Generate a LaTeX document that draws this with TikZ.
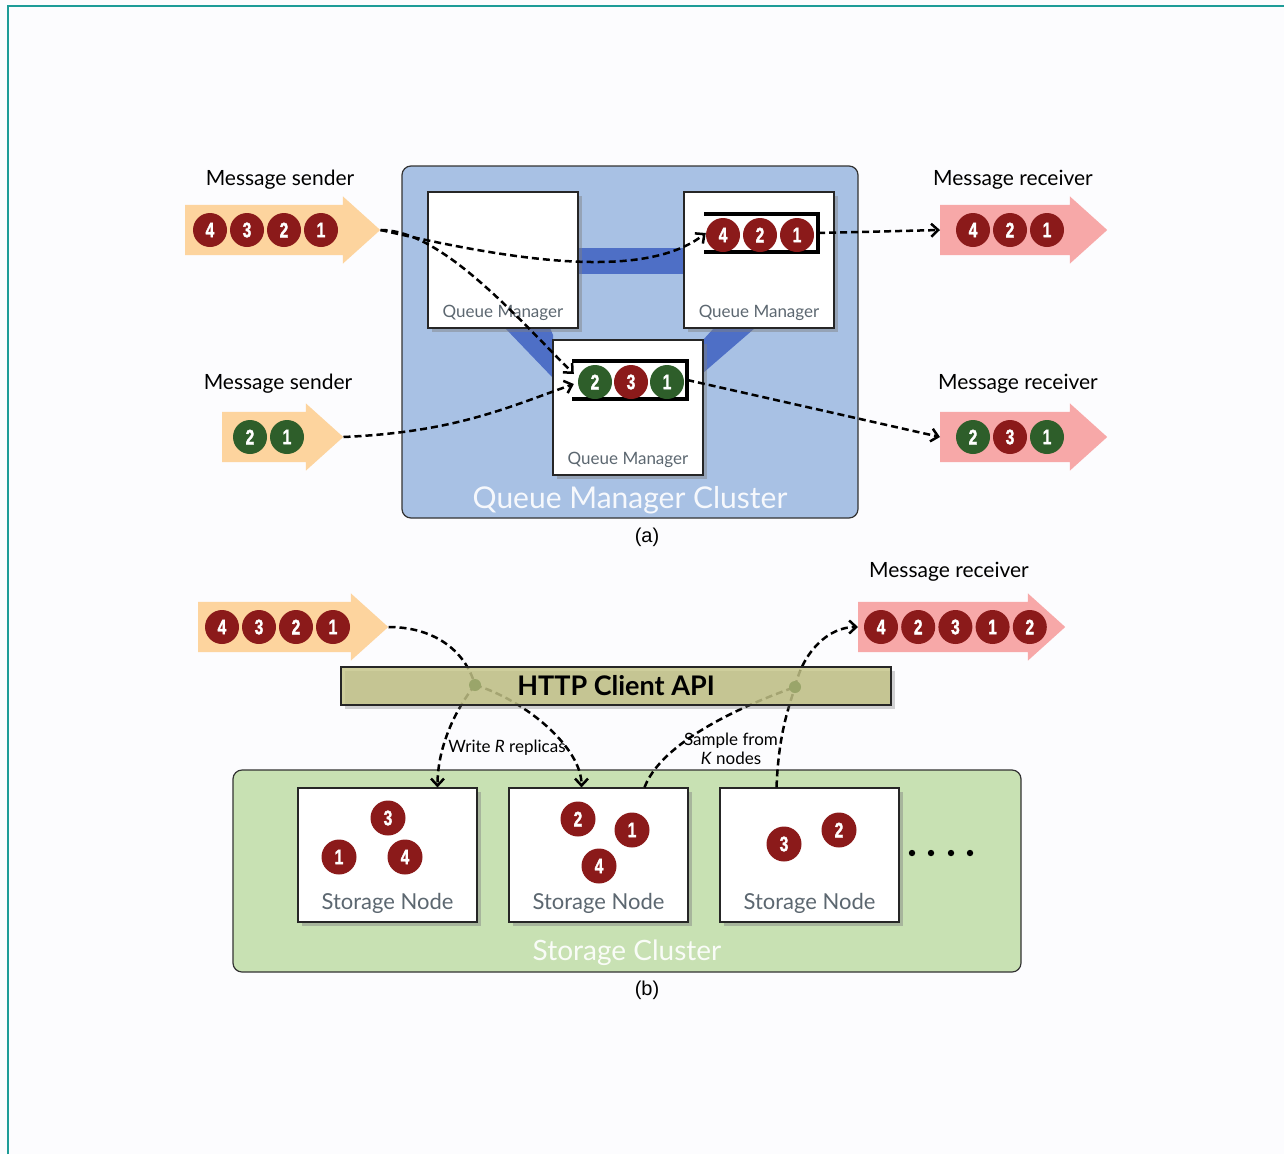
\documentclass[tikz,border=0pt]{standalone}
\usepackage{fontspec}
\setmainfont{Lato}
\newfontfamily\ballfont{Liberation Sans}[UprightFont=* Bold,FakeStretch=0.74,FakeBold=1.6]
\newfontfamily\capfont{Liberation Sans}
\usepackage{tikz}
\usetikzlibrary{arrows.meta,positioning,calc,shapes.arrows,shadows}
\definecolor{paper}{HTML}{FCFCFE}
\definecolor{frameteal}{HTML}{1E9C98}
\definecolor{clusterblue}{HTML}{A8C1E4}
\definecolor{linkblue}{HTML}{4E6FC6}
\definecolor{sendorange}{HTML}{FDD49E}
\definecolor{recvpink}{HTML}{F7A8A8}
\definecolor{ballred}{HTML}{8B1A1A}
\definecolor{ballgreen}{HTML}{2E5E2A}
\definecolor{storegreen}{HTML}{C8E1B3}
\definecolor{apiolive}{HTML}{C3C384}
\definecolor{hubolive}{HTML}{9AA56A}
\definecolor{labelgray}{HTML}{5C6770}
\tikzset{
  clusterbox/.style={draw=black!80,rounded corners=9pt,line width=1.2pt},
  clustertitle/.style={text=white,text opacity=0.9,font=\fontsize{30}{32}\selectfont},
  qmbox/.style={draw=black!85,fill=white,line width=1.2pt,minimum width=150pt,
    minimum height=136pt,drop shadow={opacity=0.45,shadow xshift=4pt,shadow yshift=-4pt}},
  storebox/.style={qmbox,minimum width=179pt,minimum height=134pt},
  qmlabel/.style={text=labelgray,font=\fontsize{17}{19}\selectfont},
  storelabel/.style={text=labelgray,font=\fontsize{22}{24}\selectfont},
  queuebox/.style={minimum width=112pt,minimum height=38pt,inner sep=0pt},
  queueline/.style={line width=3.5pt,line cap=rect},
  msgball/.style={circle,fill=ballred,text=white,minimum size=34pt,inner sep=0pt,
    font=\ballfont\fontsize{21}{21}\selectfont},
  storeball/.style={msgball,minimum size=35pt},
  sendarrow/.style={single arrow,fill=sendorange,draw=none,single arrow head extend=8.5pt,
    single arrow tip angle=84,inner xsep=0pt,inner ysep=25pt,anchor=west},
  recvarrow/.style={sendarrow,fill=recvpink},
  msglabel/.style={font=\fontsize{21}{23}\selectfont},
  msgflow/.style={line width=2.5pt,dash pattern=on 7pt off 4pt,
    -{Straight Barb[length=7pt,width=13pt]}},
  plainflow/.style={line width=2.5pt,dash pattern=on 7pt off 4pt},
  flowlabel/.style={font=\fontsize{17}{21}\selectfont,inner sep=1pt},
  sublabel/.style={font=\capfont\fontsize{20}{22}\selectfont}
}

\begin{document}
\begin{tikzpicture}[x=1pt,y=-1pt]
  \useasboundingbox (0,0) rectangle (1284,1154);
  \fill[paper] (0,0) rectangle (1284,1154);
  \draw[frameteal,line width=2.5pt] (8,1154) -- (8,6) -- (1284,6);

  % (a) queue manager cluster
  \node[clusterbox,fill=clusterblue,minimum width=456pt,minimum height=352pt] (qmCluster) at (630,342) {};
  \fill[linkblue] (578,248) rectangle (684,274);
  \fill[linkblue] (505,328) -- (550,328) -- (553,335) -- (553,378) -- cycle;
  \fill[linkblue] (714,328) -- (755,328) -- (703,373) -- (703,340) -- cycle;
  \node[clustertitle] (qmClusterTitle) at (630,500) {Queue Manager Cluster};

  \node[qmbox] (qmLeft) at (503,260) {};
  \node[qmbox] (qmRight) at (759,260) {};
  \node[qmbox,minimum height=135pt] (qmMid) at (628,407.5) {};
  \node[qmlabel] (qmLeftLabel) at ([yshift=16pt]qmLeft.south) {Queue Manager};
  \node[qmlabel] (qmRightLabel) at ([yshift=16pt]qmRight.south) {Queue Manager};
  \node[qmlabel] (qmMidLabel) at ([yshift=16pt]qmMid.south) {Queue Manager};

  % queues
  \node[queuebox] (queueRight) at (762,233) {};
  \draw[queueline] (queueRight.north west) -- (queueRight.north east)
    -- (queueRight.south east) -- (queueRight.south west);
  \foreach \n [count=\i] in {4,2,1}
    \node[msgball] (queueRightBall\i) at ({723+37*(\i-1)},235) {\n};
  \node[queuebox,minimum width=113pt] (queueMid) at (630.5,380) {};
  \draw[queueline] (queueMid.north west) -- (queueMid.north east)
    -- (queueMid.south east) -- (queueMid.south west);
  \foreach \c/\n [count=\i] in {ballgreen/2,ballred/3,ballgreen/1}
    \node[msgball,fill=\c] (queueMidBall\i) at ({595+36*(\i-1)},382) {\n};

  % senders and receivers
  \node[sendarrow,minimum height=195pt] (senderA) at (185,230) {};
  \node[sendarrow,minimum height=121pt] (senderB) at (222,437) {};
  \node[recvarrow,minimum height=167pt] (recvA) at (940,230) {};
  \node[recvarrow,minimum height=167pt] (recvB) at (940,437) {};
  \node[msglabel] (senderALabel) at (280,180) {Message sender};
  \node[msglabel] (senderBLabel) at (278,384) {Message sender};
  \node[msglabel] (recvALabel) at (1013,180) {Message receiver};
  \node[msglabel] (recvBLabel) at (1018,384) {Message receiver};
  \foreach \n [count=\i] in {4,3,2,1}
    \node[msgball] (senderABall\i) at ({210+37*(\i-1)},230) {\n};
  \foreach \n [count=\i] in {2,1}
    \node[msgball,fill=ballgreen] (senderBBall\i) at ({250+37*(\i-1)},437) {\n};
  \foreach \n [count=\i] in {4,2,1}
    \node[msgball] (recvABall\i) at ({973+37*(\i-1)},230) {\n};
  \foreach \c/\n [count=\i] in {ballgreen/2,ballred/3,ballgreen/1}
    \node[msgball,fill=\c] (recvBBall\i) at ({973+37*(\i-1)},437) {\n};

  \draw[msgflow] (senderA.tip) .. controls +(110,25) and +(-66,52) .. (queueRight.west);
  \draw[msgflow] (senderA.tip) .. controls +(60,0) and +(-60,-60) .. ([yshift=6pt]queueMid.west);
  \draw[msgflow] (senderB.tip) .. controls +(110,-5) and +(-70,25) .. ([yshift=-4pt]queueMid.west);
  \draw[msgflow] (queueRight.east) -- (recvA.west);
  \draw[msgflow] (queueMid.east) -- (recvB.west);
  \node[sublabel] (captionA) at (647,537) {(a)};

  % (b) storage cluster
  \node[clusterbox,fill=storegreen,minimum width=788pt,minimum height=202pt] (storeCluster) at (627,871) {};
  \node[clustertitle,font=\fontsize{28}{30}\selectfont] (storeClusterTitle) at (627,953) {Storage Cluster};
  \node[storebox] (storeA) at (387.5,855) {};
  \node[storebox] (storeB) at (598.5,855) {};
  \node[storebox] (storeC) at (809.5,855) {};
  \node[storelabel] (storeALabel) at ([yshift=19pt]storeA.south) {Storage Node};
  \node[storelabel] (storeBLabel) at ([yshift=19pt]storeB.south) {Storage Node};
  \node[storelabel] (storeCLabel) at ([yshift=19pt]storeC.south) {Storage Node};
  \node[storeball] (storeABall3) at (388,818) {3};
  \node[storeball] (storeABall1) at (339,857) {1};
  \node[storeball] (storeABall4) at (405,857) {4};
  \node[storeball] (storeBBall2) at (578,819) {2};
  \node[storeball] (storeBBall1) at (632,830) {1};
  \node[storeball] (storeBBall4) at (599,866) {4};
  \node[storeball] (storeCBall3) at (784,844) {3};
  \node[storeball] (storeCBall2) at (839,830) {2};
  \foreach \x in {912,931,951,970}
    \fill (\x,853) circle (3.2);

  \node[sendarrow,minimum height=190pt] (senderC) at (198,627) {};
  \node[recvarrow,minimum height=207pt] (recvC) at (858,627) {};
  \node[msglabel] (recvCLabel) at (949,572) {Message receiver};
  \foreach \n [count=\i] in {4,3,2,1}
    \node[msgball] (senderCBall\i) at ({222+37*(\i-1)},627) {\n};
  \foreach \n [count=\i] in {4,2,3,1,2}
    \node[msgball] (recvCBall\i) at ({881+37.2*(\i-1)},627) {\n};

  \coordinate (writeHub) at (475,685);
  \coordinate (sampleHub) at (795,687);
  \draw[plainflow] (senderC.tip) .. controls +(45,0) and +(-10,-35) .. (writeHub);
  \draw[msgflow] (writeHub) .. controls +(-20,25) and +(0,-40) .. ([xshift=50pt]storeA.north);
  \draw[msgflow] (writeHub) .. controls +(50,15) and +(0,-40) .. ([xshift=-17pt]storeB.north);
  \draw[plainflow] ([xshift=46pt]storeB.north) .. controls +(15,-40) and +(-70,25) .. (sampleHub);
  \draw[plainflow] ([xshift=-33pt]storeC.north) .. controls +(2,-50) and +(-8,25) .. (sampleHub);
  \draw[msgflow] (sampleHub) .. controls +(8,-35) and +(-30,0) .. (recvC.west);

  \node[draw=black!85,fill=apiolive,fill opacity=0.8,text opacity=1,line width=1.2pt,
    minimum width=550pt,minimum height=38pt,font=\bfseries\fontsize{27}{29}\selectfont,
    drop shadow={opacity=0.35,shadow xshift=4pt,shadow yshift=-4pt}] (httpApi) at (616,686) {HTTP Client API};
  \fill[hubolive] (writeHub) circle (6);
  \fill[hubolive] (sampleHub) circle (6);

  \node[flowlabel] (writeLabel) at (507,748) {Write \textit{R} replicas};
  \node[flowlabel,align=center] (sampleLabel) at (731,749) {Sample from\\[-2pt]\textit{K} nodes};
  \node[sublabel] (captionB) at (647,990) {(b)};
\end{tikzpicture}
\end{document}
